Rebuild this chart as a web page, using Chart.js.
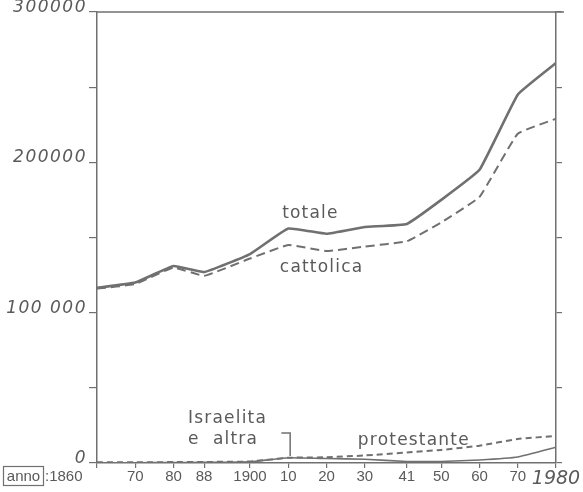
<!DOCTYPE html>
<html>
<head>
<meta charset="utf-8">
<script src="https://cdn.jsdelivr.net/npm/chart.js@4.4.0/dist/chart.umd.min.js"></script>
<style>
html,body{margin:0;padding:0;background:#fff;}
#wrap{width:583px;height:492px;}
</style>
</head>
<body>
<div id="wrap"><canvas id="c" width="583" height="492"></canvas></div>
<script>
// ---- data ----
const years      = [1860, 1870, 1880, 1888, 1900, 1910, 1920, 1930, 1941, 1950, 1960, 1970, 1980];
const totale     = [116500, 120000, 131000, 127000, 139000, 156000, 152500, 157000, 159000, 175000, 195000, 245000, 266000];
const cattolica  = [116000, 119000, 130000, 124500, 136000, 145000, 141000, 144000, 147500, 160000, 177000, 219000, 229000];
const protestante= [500, 500, 600, 700, 1000, 3500, 3800, 5000, 7000, 8700, 11500, 16000, 18000];
const israelita  = [200, 200, 300, 400, 800, 3500, 3000, 2500, 1000, 1000, 2000, 4000, 10500];

const tickYears  = [1860, 1870, 1880, 1888, 1900, 1910, 1920, 1930, 1941, 1950, 1960, 1970, 1980];
const tickLabels = ['1860', '70', '80', '88', '1900', '10', '20', '30', '41', '50', '60', '70', '1980'];
const yLabelValues = [0, 100000, 200000, 300000];
const yLabelTexts  = ['0', '100 000', '200000', '300000'];

const INK = '#707070';
const TXT = '#5a5a5a';

const pts = arr => years.map((y, i) => ({x: y, y: arr[i]}));

const decor = {
  id: 'decor',
  afterDraw(chart) {
    const ctx = chart.ctx, a = chart.chartArea;
    const xs = chart.scales.x, ys = chart.scales.y;
    ctx.save();
    // top border
    ctx.strokeStyle = INK; ctx.lineWidth = 1.5;
    ctx.beginPath(); ctx.moveTo(a.left, a.top); ctx.lineTo(a.right + 8, a.top); ctx.stroke();
    // y labels
    ctx.fillStyle = TXT;
    ctx.font = 'italic 17px "DejaVu Sans"';
    ctx.letterSpacing = '1.5px';
    ctx.textAlign = 'right'; ctx.textBaseline = 'alphabetic';
    yLabelValues.forEach((v, i) => {
      ctx.fillText(yLabelTexts[i], a.left - 10, ys.getPixelForValue(v));
    });
    // series labels
    ctx.textAlign = 'left';
    ctx.font = '17px "DejaVu Sans"';
    ctx.letterSpacing = '1.2px';
    const lab = (t, yr, v) => ctx.fillText(t, xs.getPixelForValue(yr), ys.getPixelForValue(v));
    lab('totale', 1908.4, 163300);
    lab('cattolica', 1907.8, 127300);
    lab('Israelita', 1883.8, 26700);
    lab('e  altra', 1883.8, 12700);
    lab('protestante', 1928.2, 12300);
    // bracket
    ctx.strokeStyle = INK; ctx.lineWidth = 1.5;
    ctx.beginPath();
    ctx.moveTo(xs.getPixelForValue(1908.2), ys.getPixelForValue(20000));
    ctx.lineTo(xs.getPixelForValue(1910.5), ys.getPixelForValue(20000));
    ctx.lineTo(xs.getPixelForValue(1910.5), ys.getPixelForValue(4700));
    ctx.stroke();
    // anno box and 1860
    ctx.letterSpacing = '0px';
    ctx.lineWidth = 1.2;
    ctx.strokeRect(3.5, 466.5, 40, 19);
    ctx.font = '15px "Liberation Sans"';
    ctx.textAlign = 'center';
    ctx.fillText('anno', 23.5, 481);
    ctx.textAlign = 'left';
    ctx.fillText(':' + tickLabels[0], 45, 481);
    ctx.restore();
  }
};

new Chart(document.getElementById('c'), {
  type: 'line',
  data: {
    datasets: [
      {label: 'totale', data: pts(totale), borderColor: INK, borderWidth: 2.6, pointRadius: 0, tension: 0.1},
      {label: 'cattolica', data: pts(cattolica), borderColor: INK, borderWidth: 2, borderDash: [9, 5], pointRadius: 0, tension: 0.1},
      {label: 'protestante', data: pts(protestante), borderColor: INK, borderWidth: 2, borderDash: [6, 4], pointRadius: 0, tension: 0.1},
      {label: 'Israelita e altra', data: pts(israelita), borderColor: INK, borderWidth: 1.6, pointRadius: 0, tension: 0.1}
    ]
  },
  options: {
    responsive: false,
    animation: false,
    devicePixelRatio: 1,
    layout: {padding: {top: 12, left: 0, right: 0, bottom: 0}},
    plugins: {legend: {display: false}, tooltip: {enabled: false}},
    scales: {
      x: {
        type: 'linear', min: 1860, max: 1980, position: 'bottom',
        afterBuildTicks: s => { s.ticks = tickYears.map(v => ({value: v})); },
        afterFit: s => { s.height = 29; },
        grid: {drawOnChartArea: false, color: INK, tickLength: 5, lineWidth: 1.2},
        border: {color: INK, width: 1.5},
        ticks: {
          autoSkip: false, maxRotation: 0, padding: 0,
          color: TXT,
          callback: (v, i) => i === 0 ? '' : tickLabels[i],
          font: c => (c.tick && c.tick.value === 1980)
            ? {family: '"DejaVu Sans"', style: 'italic', size: 19}
            : {family: '"Liberation Sans"', size: 15}
        }
      },
      y: {
        min: 0, max: 300000, position: 'left',
        ticks: {stepSize: 50000, callback: () => '', padding: 0},
        afterFit: s => { s.width = 97; },
        grid: {drawOnChartArea: false, color: INK, tickLength: 8, lineWidth: 1.2},
        border: {color: INK, width: 1.5}
      },
      y2: {
        min: 0, max: 300000, position: 'right',
        ticks: {stepSize: 50000, callback: () => '', padding: 0},
        afterFit: s => { s.width = 27; },
        grid: {drawOnChartArea: false, color: INK, tickLength: 6, lineWidth: 1.2},
        border: {color: INK, width: 1.5}
      }
    }
  },
  plugins: [decor]
});
</script>
</body>
</html>
